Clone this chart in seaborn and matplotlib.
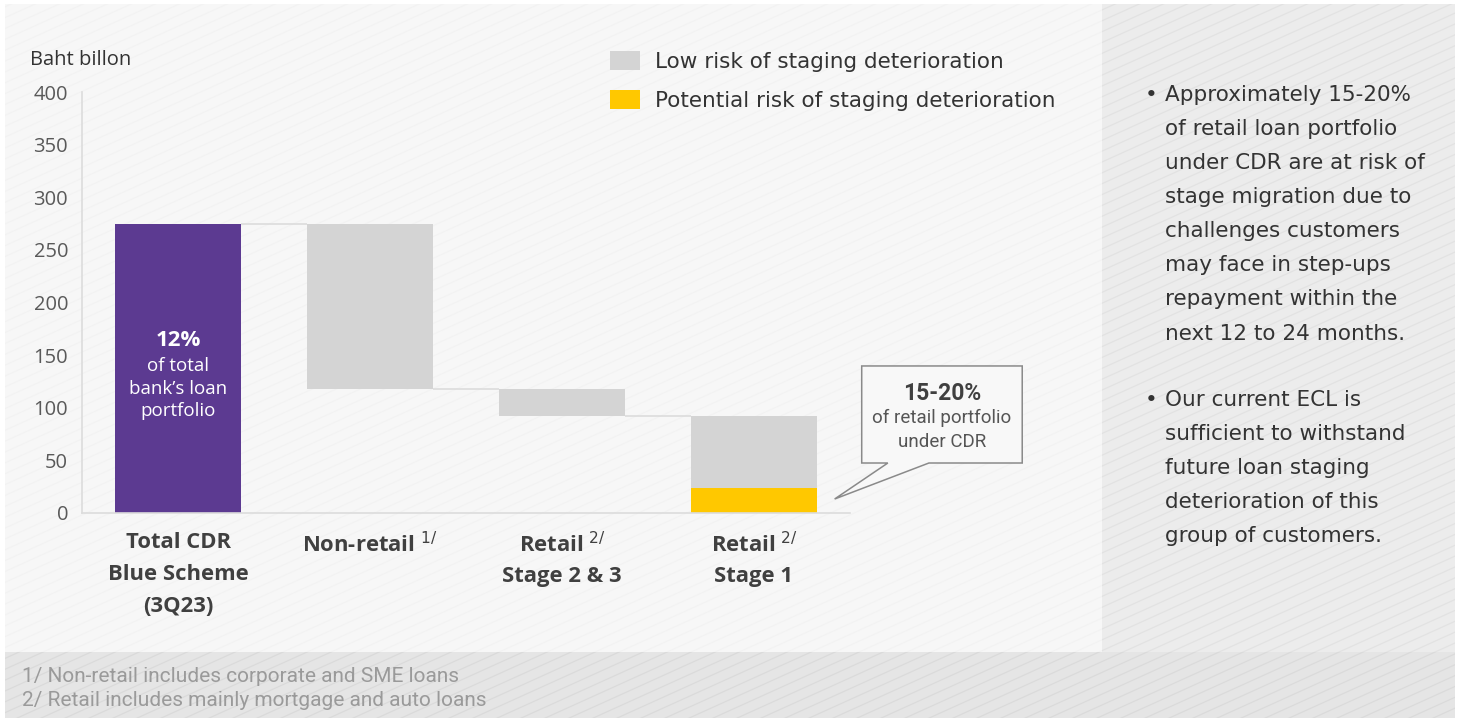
import numpy as np
import pandas as pd
import matplotlib.pyplot as plt
import seaborn as sns
from matplotlib.patches import Rectangle, Polygon, Patch

# chart data (Baht billion)
categories = ["Total CDR\nBlue Scheme\n(3Q23)", "Non-retail", "Retail\nStage 2 & 3", "Retail\nStage 1"]
footnote_marks = ["", "1/", "2/", "2/"]
total_cdr = 275
non_retail = 157
retail_stage23 = 26
retail_stage1_low = 68
retail_stage1_risk = 24

low_heights = [total_cdr, non_retail, retail_stage23, retail_stage1_low]
risk_heights = [0, 0, 0, retail_stage1_risk]
y_ticks = [0, 50, 100, 150, 200, 250, 300, 350, 400]

legend_labels = ["Low risk of staging deterioration", "Potential risk of staging deterioration"]
bullets = [
    "Approximately 15-20%\nof retail loan portfolio\nunder CDR are at risk of\nstage migration due to\nchallenges customers\nmay face in step-ups\nrepayment within the\nnext 12 to 24 months.",
    "Our current ECL is\nsufficient to withstand\nfuture loan staging\ndeterioration of this\ngroup of customers.",
]
footnotes = ["1/ Non-retail includes corporate and SME loans",
             "2/ Retail includes mainly mortgage and auto loans"]

# waterfall bottoms
tops = [total_cdr, total_cdr, total_cdr - non_retail, total_cdr - non_retail - retail_stage23]
low_bottoms = [0, tops[1] - non_retail, tops[2] - retail_stage23, retail_stage1_risk]

purple = "#5c3a91"
grey = "#d4d4d4"
yellow = "#ffc800"

sns.set_theme(style="white")
plt.rcParams["font.family"] = ["Open Sans", "DejaVu Sans"]
wide = ["DejaVu Sans"]
narrow = ["Roboto", "DejaVu Sans"]

W, H = 1461, 724
fig = plt.figure(figsize=(W / 100, H / 100), dpi=100)
fig.patch.set_facecolor("white")

# background panels (pixel coordinates)
bg = fig.add_axes([0, 0, 1, 1], zorder=-5)
bg.set_xlim(0, W)
bg.set_ylim(H, 0)
bg.axis("off")
footer = Rectangle((5, 652), 1450, 66, color="#e5e5e5", lw=0)
right = Rectangle((1102, 4), 353, 648, color="#ececec", lw=0)
main = Rectangle((5, 4), 1097, 648, color="#f7f7f7", lw=0)
for r in (footer, right, main):
    bg.add_patch(r)
# faint diagonal stripes
for x0 in np.arange(-1700, 1500, 24):
    for clip, col in ((right, "#dedede"), (footer, "#d6d6d6"), (main, "#f1f1f1")):
        ln, = bg.plot([x0, x0 + 1600], [724, 0], color=col, lw=0.9, alpha=0.7)
        ln.set_clip_path(clip)

# main chart
ax = fig.add_axes([82 / W, 1 - 513 / H, (850 - 82) / W, (513 - 92) / H], zorder=1)
ax.set_facecolor("none")

df = pd.DataFrame({"category": categories, "low": low_heights, "bottom": low_bottoms, "risk": risk_heights})
bar_w = 0.66
sns.barplot(data=df, x="category", y="low", bottom=df["bottom"].values, color=grey,
            width=bar_w, errorbar=None, saturation=1, ax=ax)
sns.barplot(data=df, x="category", y="risk", color=yellow,
            width=bar_w, errorbar=None, saturation=1, ax=ax)
ax.patches[0].set_facecolor(purple)
for p in ax.patches:
    p.set_linewidth(0)

# connector lines
for i in range(len(categories) - 1):
    ax.hlines(tops[i + 1], i + bar_w / 2, i + 1 - bar_w / 2, color="#dcdcdc", lw=1.2, zorder=0)

ax.set_xlim(-0.5, 3.5)
ax.set_ylim(0, 400)
ax.set_yticks(y_ticks)
ax.set_xlabel("")
ax.set_ylabel("")
sns.despine(ax=ax)
for s in ("left", "bottom"):
    ax.spines[s].set_color("#dcdcdc")
    ax.spines[s].set_linewidth(1.2)

# tick labels with footnote marks as superscripts on the first line
tick_labels = []
for cat, mark in zip(categories, footnote_marks):
    first, _, rest = cat.partition("\n")
    if mark:
        first = first + r" $^{" + mark + "}$"
    tick_labels.append(first + ("\n" + rest if rest else ""))
ax.set_xticks(range(len(categories)))
ax.set_xticklabels(tick_labels)

ax.tick_params(axis="y", length=0, pad=10, labelsize=14.5, labelcolor="#595959")
ax.tick_params(axis="x", length=0, pad=14, labelsize=15.8, labelcolor="#404040")
for lab, mark in zip(ax.get_xticklabels(), footnote_marks):
    lab.set_fontweight("bold")
    lab.set_linespacing(1.55 if mark else 1.68)
    lab.set_verticalalignment("top")

# text inside total bar
ax.text(0, 164, "12%", ha="center", va="center", color="white", fontsize=16, fontweight="bold")
ax.text(0, 118, "of total\nbank\u2019s loan\nportfolio", ha="center", va="center",
        color="white", fontsize=13.5, linespacing=1.33)

# callout box
bx0, bx1, by0, by1 = 3.561, 4.397, 47.5, 139.7
callout = Polygon([(bx0, by1), (bx1, by1), (bx1, by0), (3.911, by0), (3.42, 13.3),
                   (3.697, by0), (bx0, by0)], closed=True, facecolor="#f8f8f8",
                  edgecolor="#8a8a8a", lw=1.1, clip_on=False, zorder=3)
ax.add_patch(callout)
ax.text((bx0 + bx1) / 2, 114, "15-20%", ha="center", va="center", fontsize=16.5,
        fontweight="bold", color="#404040", family=narrow, zorder=4, clip_on=False)
ax.text((bx0 + bx1) / 2, 79, "of retail portfolio\nunder CDR", ha="center", va="center",
        fontsize=13.5, color="#555555", family=narrow, linespacing=1.45, zorder=4, clip_on=False)

# y-axis unit label
fig.text(30 / W, 1 - 60 / H, "Baht billon", ha="left", va="center", fontsize=14.5, color="#333333")

# legend
handles = [Patch(facecolor=grey, edgecolor="none"), Patch(facecolor=yellow, edgecolor="none")]
fig.legend(handles, legend_labels, loc="upper left", bbox_to_anchor=(610 / W, 1 - 51 / H),
           frameon=False, handlelength=1.4, handleheight=1.0,
           handletextpad=0.7, labelspacing=0.84, borderpad=0, borderaxespad=0,
           prop={"family": wide, "size": 15.5})
for t in fig.legends[0].get_texts():
    t.set_color("#333333")

# right side bullets
for text, ytop in zip(bullets, [85, 390]):
    fig.text(1145 / W, 1 - ytop / H, "\u2022", ha="left", va="top", fontsize=15.5,
             color="#333333", family=wide)
    fig.text(1165 / W, 1 - ytop / H, text, ha="left", va="top", fontsize=15.5,
             color="#333333", linespacing=1.88, family=wide)

# footnotes
for note, yc in zip(footnotes, [677, 700]):
    fig.text(22 / W, 1 - yc / H, note, ha="left", va="center", fontsize=15,
             color="#9a9a9a", family=narrow)

fig.savefig("out.png", dpi=100)
